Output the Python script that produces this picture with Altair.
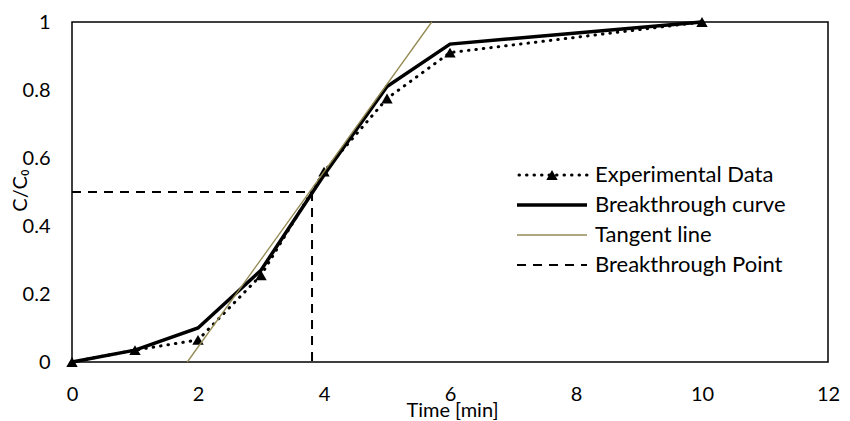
import altair as alt
import pandas as pd

# Data
time_exp = [0, 1, 2, 3, 4, 5, 6, 10]
c_exp = [0.0, 0.035, 0.065, 0.255, 0.56, 0.775, 0.91, 1.0]

time_curve = [0, 1, 2, 3, 4, 5, 6, 10]
c_curve = [0.0, 0.035, 0.10, 0.27, 0.55, 0.81, 0.935, 1.0]

tangent_t = [1.83, 5.71]
tangent_c = [0.0, 1.0]

bp_t = [0, 3.81, 3.81]
bp_c = [0.5, 0.5, 0.0]

legend_labels = ["Experimental Data", "Breakthrough curve", "Tangent line", "Breakthrough Point"]

x_ticks = [0, 2, 4, 6, 8, 10, 12]
y_ticks = [0, 0.2, 0.4, 0.6, 0.8, 1.0]

FONT = "Lato"
TAN = "#948A54"

exp_df = pd.DataFrame({"t": time_exp, "c": c_exp})
curve_df = pd.DataFrame({"t": time_curve, "c": c_curve})
tan_df = pd.DataFrame({"t": tangent_t, "c": tangent_c})
bp_df = pd.DataFrame({"t": bp_t, "c": bp_c, "o": list(range(len(bp_t)))})

xenc = alt.X("t:Q", scale=alt.Scale(domain=[0, 12], nice=False),
             axis=alt.Axis(values=x_ticks, format="~g", title="Time [min]", labelPadding=22,
                           labelFlush=False,
                           titleX=380, titleY=48, titleBaseline="middle", titleAlign="center"))
yenc = alt.Y("c:Q", scale=alt.Scale(domain=[0, 1], nice=False),
             axis=alt.Axis(values=y_ticks, format="~g", title="C/C₀", labelPadding=22,
                           labelFlush=False,
                           titleX=-52, titleY=168, titleAngle=-90, titleBaseline="middle",
                           titleAlign="center"))

exp_line = alt.Chart(exp_df).mark_line(color="black", strokeWidth=3, strokeDash=[0.5, 7],
                                       strokeCap="round").encode(x=xenc, y=yenc)
exp_pts = alt.Chart(exp_df).mark_point(shape="triangle-up", filled=True, size=130,
                                       color="black", opacity=1).encode(x="t:Q", y="c:Q")
curve = alt.Chart(curve_df).mark_line(color="black", strokeWidth=3.5).encode(x="t:Q", y="c:Q")
tangent = alt.Chart(tan_df).mark_line(color=TAN, strokeWidth=1.3).encode(x="t:Q", y="c:Q")
bp = alt.Chart(bp_df).mark_line(color="black", strokeWidth=2, strokeDash=[9, 7]).encode(
    x="t:Q", y="c:Q", order="o:Q")

# Manual legend
one = pd.DataFrame({"k": [0]})
row_y = [153, 183, 213, 243]
sx0, sx1, tx = 445, 515, 523
leg = []
leg.append(alt.Chart(one).mark_rule(color="black", strokeWidth=3, strokeDash=[0.5, 7],
                                    strokeCap="round").encode(
    x=alt.value(sx0 + 2), x2=alt.value(sx1), y=alt.value(row_y[0])))
leg.append(alt.Chart(one).mark_point(shape="triangle-up", filled=True, size=130, color="black",
                                     opacity=1).encode(
    x=alt.value((sx0 + sx1) / 2), y=alt.value(row_y[0])))
leg.append(alt.Chart(one).mark_rule(color="black", strokeWidth=3.5).encode(
    x=alt.value(sx0), x2=alt.value(sx1), y=alt.value(row_y[1])))
leg.append(alt.Chart(one).mark_rule(color=TAN, strokeWidth=1.3).encode(
    x=alt.value(sx0), x2=alt.value(sx1), y=alt.value(row_y[2])))
leg.append(alt.Chart(one).mark_rule(color="black", strokeWidth=2, strokeDash=[9, 7]).encode(
    x=alt.value(sx0), x2=alt.value(sx1), y=alt.value(row_y[3])))
for lab, yy in zip(legend_labels, row_y):
    leg.append(alt.Chart(one).mark_text(align="left", baseline="middle", font=FONT, fontSize=22,
                                        color="black").encode(
        x=alt.value(tx), y=alt.value(yy), text=alt.value(lab)))

chart = alt.layer(exp_line, exp_pts, curve, tangent, bp, *leg).properties(
    width=756, height=340,
    autosize=alt.AutoSizeParams(type="none"),
    padding={"left": 64, "top": 14, "right": 14, "bottom": 58},
).configure_view(stroke="black", strokeWidth=1.5).configure_axis(
    domain=False, ticks=False, grid=False, labelFont=FONT, titleFont=FONT,
    labelFontSize=20, titleFontSize=20, labelColor="black", titleColor="black",
    titleFontWeight="normal",
)

chart.save("out.html", embed_options={"renderer": "svg", "actions": False})
